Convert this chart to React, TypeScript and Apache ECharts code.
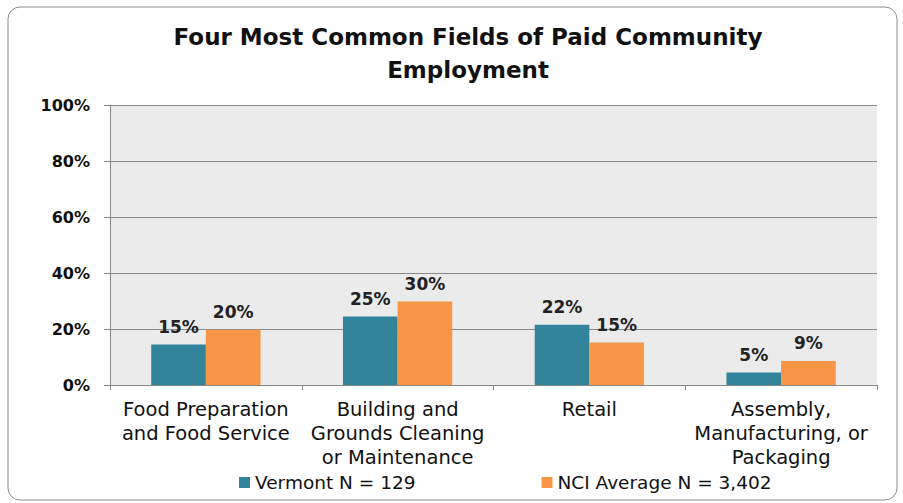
import React, { useEffect, useRef } from "react";
import * as echarts from "echarts";

const categories = [
  "Food Preparation\nand Food Service",
  "Building and\nGrounds Cleaning\nor Maintenance",
  "Retail",
  "Assembly,\nManufacturing, or\nPackaging",
];
const vermontName = "Vermont N = 129";
const nciName = "NCI Average N = 3,402";
const vermontValues = [14.5, 24.5, 21.5, 4.5];
const nciValues = [19.7, 29.8, 15.2, 8.6];
const yTicks = [0, 20, 40, 60, 80, 100];

const FONT = "'DejaVu Sans', sans-serif";

export default function App() {
  const ref = useRef<HTMLDivElement>(null);
  useEffect(() => {
    if (!ref.current) return;
    const chart = echarts.init(ref.current, undefined, { renderer: "svg" });
    const label = {
      show: true,
      position: "top" as const,
      distance: 9,
      formatter: (p: any) => Math.round(p.value) + "%",
      fontFamily: FONT,
      fontSize: 17,
      fontWeight: "bold",
      color: "#222",
    };
    chart.setOption({
      animation: false,
      backgroundColor: "#fff",
      textStyle: { fontFamily: FONT },
      title: {
        text: "Four Most Common Fields of Paid Community\nEmployment",
        left: 463,
        textAlign: "center",
        top: 15,
        textStyle: {
          fontFamily: FONT,
          fontSize: 23,
          fontWeight: "bold",
          color: "#111",
          lineHeight: 33,
        },
      },
      graphic: [
        {
          type: "rect",
          shape: { x: 8, y: 7, width: 889, height: 493, r: 12 },
          style: { fill: "none", stroke: "#8c8c8c", lineWidth: 1 },
          silent: true,
          z: 100,
        },
      ],
      legend: {
        left: 234,
        top: 468,
        itemWidth: 11,
        itemHeight: 11,
        itemGap: 126,
        icon: "rect",
        textStyle: { fontFamily: FONT, fontSize: 18.5, color: "#111" },
        data: [vermontName, nciName],
      },
      grid: {
        left: 110,
        right: 26,
        top: 105,
        bottom: 118,
        show: true,
        backgroundColor: "#ebebeb",
        borderWidth: 0,
      },
      xAxis: {
        type: "category",
        data: categories,
        axisLine: { show: true, lineStyle: { color: "#888", width: 1 } },
        axisTick: { show: true, alignWithLabel: false, length: 5, lineStyle: { color: "#888" } },
        axisLabel: {
          interval: 0,
          margin: 12,
          fontFamily: FONT,
          fontSize: 19.5,
          lineHeight: 24,
          color: "#111",
        },
      },
      yAxis: {
        type: "value",
        min: yTicks[0],
        max: yTicks[yTicks.length - 1],
        interval: 20,
        axisLine: { show: true, lineStyle: { color: "#888", width: 1 } },
        axisTick: { show: true, inside: false, length: 6, lineStyle: { color: "#888" } },
        splitLine: { show: true, lineStyle: { color: "#888", width: 1 } },
        axisLabel: {
          margin: 20,
          formatter: "{value}%",
          fontFamily: FONT,
          fontSize: 16,
          fontWeight: "bold",
          color: "#111",
        },
      },
      series: [
        {
          name: vermontName,
          type: "bar",
          data: vermontValues,
          barGap: "0%",
          barCategoryGap: "43%",
          itemStyle: { color: "#31849b" },
          label,
        },
        {
          name: nciName,
          type: "bar",
          data: nciValues,
          itemStyle: { color: "#f79646" },
          label,
        },
      ],
    });
    return () => chart.dispose();
  }, []);
  return (
    <div
      ref={ref}
      style={{ position: "fixed", left: 0, top: 0, width: 903, height: 503 }}
    />
  );
}
